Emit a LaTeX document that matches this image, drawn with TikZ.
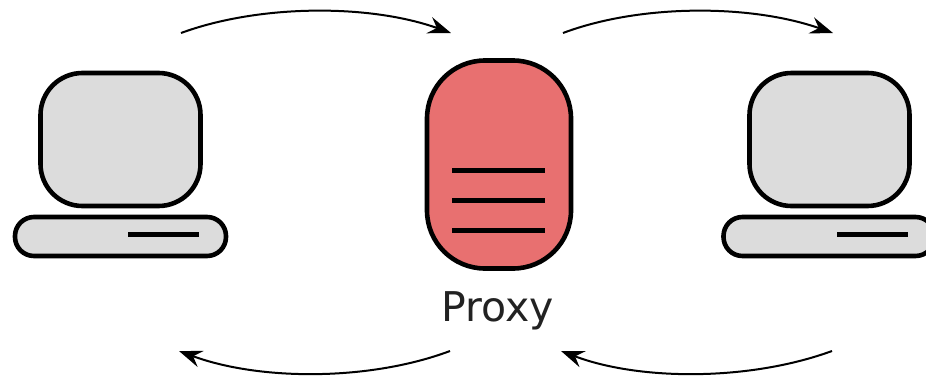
\documentclass[tikz,border=0pt]{standalone}
\usepackage{fontspec}
\setmainfont{DejaVu Sans}
\usetikzlibrary{arrows.meta}
\definecolor{screenfill}{HTML}{DCDCDC}
\definecolor{proxyfill}{HTML}{E87070}
\definecolor{labelink}{HTML}{222222}
\tikzset{x=1pt,y=-1pt,
 part/.style={draw=black,line width=4.6pt,rounded corners=#1},
 slot/.style={line width=5pt},
 flow/.style={draw=black,line width=2pt,-{Stealth[length=23pt,width=17pt,inset=8pt]}}}
\begin{document}
\begin{tikzpicture}
\useasboundingbox (0,0) rectangle (926,375);
% left computer
\filldraw[part=42pt,fill=screenfill] (40.5,73) rectangle (200.5,206);
\filldraw[part=19pt,fill=screenfill] (15,217) rectangle (226,256);
\draw[slot] (128,234.5) -- (199,234.5);
% right computer
\filldraw[part=42pt,fill=screenfill] (749.5,73) rectangle (909.5,206);
\filldraw[part=19pt,fill=screenfill] (723.5,217) rectangle (934.5,256);
\draw[slot] (837,234.5) -- (908,234.5);
% proxy
\filldraw[part=58pt,fill=proxyfill] (427,60.5) rectangle (571,268.5);
\draw[slot] (452,170.5) -- (545,170.5);
\draw[slot] (452,200.5) -- (545,200.5);
\draw[slot] (452,230.5) -- (545,230.5);
\node[font=\fontsize{41}{48}\selectfont,text=labelink] (label) at (497.5,311) {Proxy};
% arrows
\coordinate (a1) at (181,33); \coordinate (a2) at (451,33);
\coordinate (b1) at (563,33); \coordinate (b2) at (833,33);
\coordinate (c1) at (832,351); \coordinate (c2) at (561,351);
\coordinate (d1) at (450,351); \coordinate (d2) at (179,351);
\draw[flow] (a1) .. controls (260,4) and (370,4) .. (a2);
\draw[flow] (b1) .. controls (640,4) and (750,4) .. (b2);
\draw[flow] (c1) .. controls (750,381) and (640,381) .. (c2);
\draw[flow] (d1) .. controls (370,381) and (260,381) .. (d2);
\end{tikzpicture}
\end{document}
